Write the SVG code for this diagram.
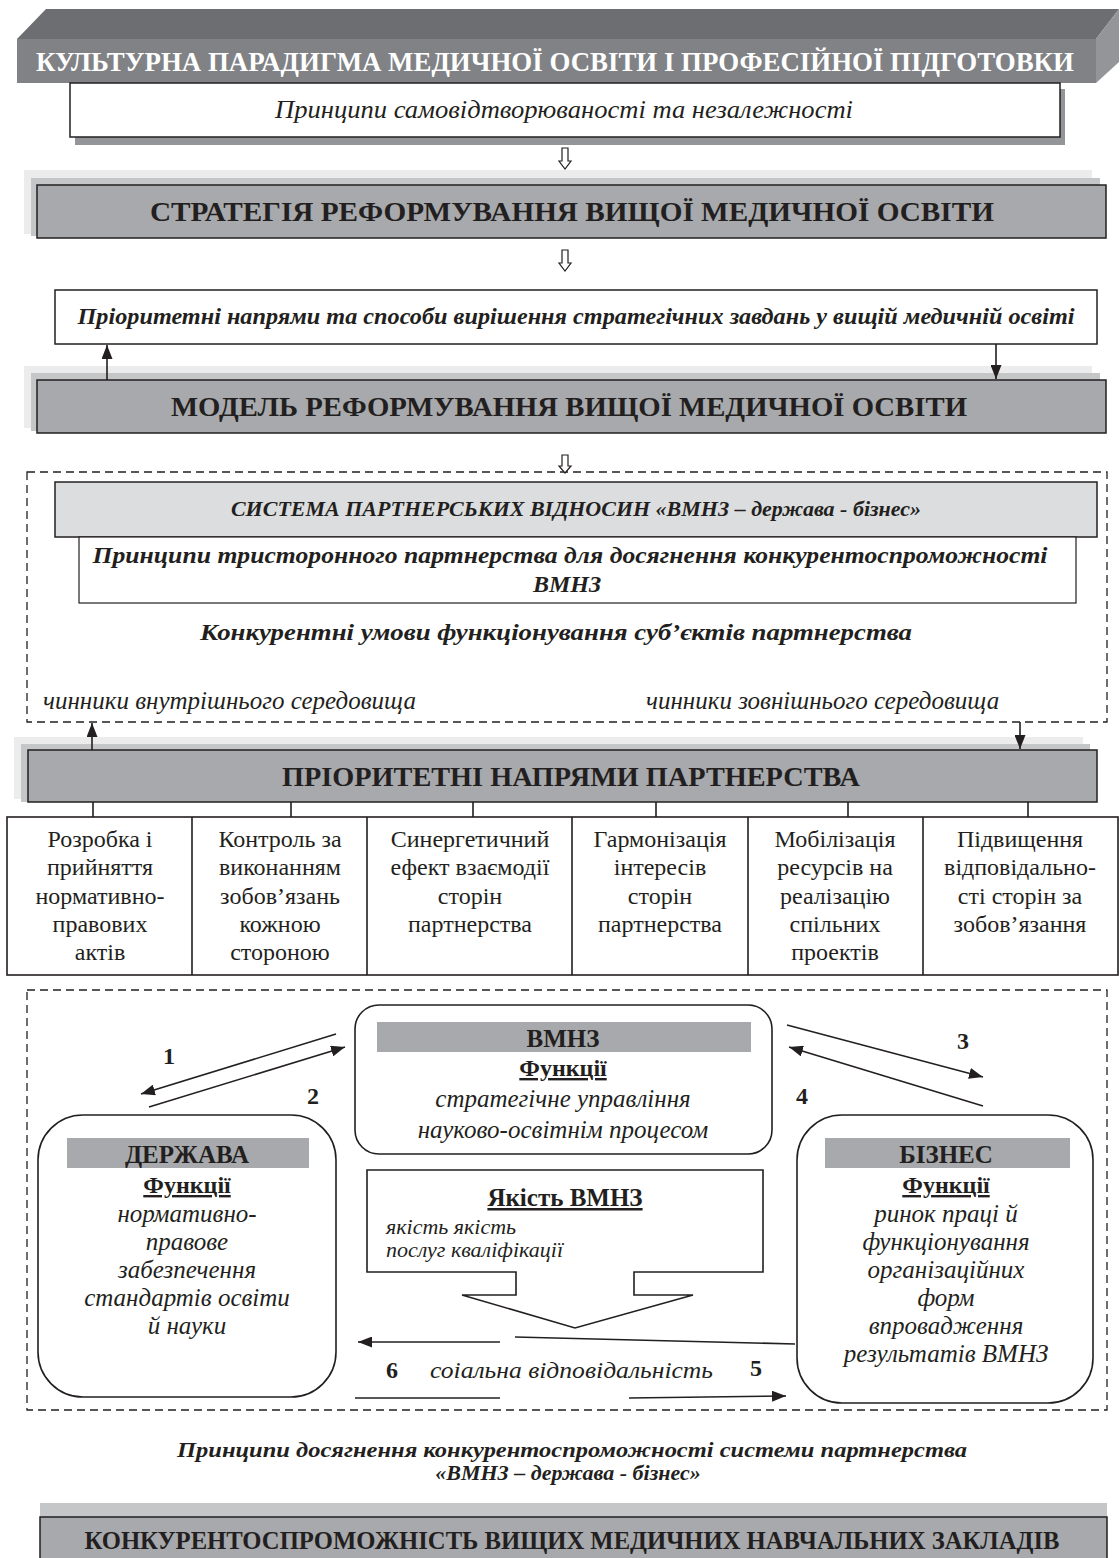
<svg xmlns="http://www.w3.org/2000/svg" width="1120" height="1558" viewBox="0 0 1120 1558">
<defs>
<marker id="ah" viewBox="0 0 14 11" refX="14" refY="5.5" markerWidth="14" markerHeight="11" markerUnits="userSpaceOnUse" orient="auto"><path d="M0,0 L14,5.5 L0,11 z" fill="#231f20"/></marker>
<style>
.t{font-family:"Liberation Serif","Times New Roman",serif;fill:#231f20}
.b{font-weight:bold}
.i{font-style:italic}
.c{text-anchor:middle}
.u{text-decoration:underline}
.w{fill:#fff}
.ln{stroke:#231f20;stroke-width:1.6;fill:none}
.box{fill:#fff;stroke:#231f20;stroke-width:1.5}
.ban{fill:#a7a9ac;stroke:#231f20;stroke-width:1.5}
.sh1{fill:#ececed}
.sh2{fill:#c5c6c8}
.dash{fill:none;stroke:#231f20;stroke-width:1.3;stroke-dasharray:8 5}
.hd{fill:#a7a9ac}
.hol{fill:#fff;stroke:#231f20;stroke-width:1.2}
.rb{fill:#fff;stroke:#231f20;stroke-width:1.6}
</style>
</defs>

<g id="culture">
<polygon points="17,39 46,9 1119,9 1096,39" fill="#6d6e71"/>
<polygon points="1096,39 1119,9 1119,62 1096,83" fill="#939598"/>
<rect x="17" y="39" width="1079" height="44" fill="#808285"/>
<text class="t b c w" x="555" y="71" font-size="27" textLength="1038" lengthAdjust="spacingAndGlyphs">КУЛЬТУРНА ПАРАДИГМА МЕДИЧНОЇ ОСВІТИ І ПРОФЕСІЙНОЇ ПІДГОТОВКИ</text>
</g>

<g id="selfrepro">
<rect x="75" y="89" width="990" height="56" fill="#939598"/>
<rect class="box" x="70" y="83" width="990" height="54"/>
<text class="t i c" x="564" y="118" font-size="26" textLength="578" lengthAdjust="spacingAndGlyphs">Принципи самовідтворюваності та незалежності</text>
</g>

<g id="strategy">
<rect class="sh1" x="24" y="170" width="1068" height="64"/>
<rect class="sh2" x="31" y="178" width="1069" height="58"/>
<rect class="ban" x="37" y="185" width="1069" height="53"/>
<text class="t b c" x="572" y="221" font-size="28" textLength="844" lengthAdjust="spacingAndGlyphs">СТРАТЕГІЯ РЕФОРМУВАННЯ ВИЩОЇ МЕДИЧНОЇ ОСВІТИ</text>
</g>

<g id="priorities">
<rect class="box" x="55" y="290" width="1042" height="54"/>
<text class="t b i c" x="576" y="324" font-size="23" textLength="997" lengthAdjust="spacingAndGlyphs">Пріоритетні напрями та способи вирішення стратегічних завдань у вищій медичній освіті</text>
</g>

<g id="model">
<rect class="sh1" x="24" y="366" width="1068" height="62"/>
<rect class="sh2" x="31" y="373" width="1069" height="58"/>
<rect class="ban" x="37" y="380" width="1069" height="53"/>
<text class="t b c" x="569" y="416" font-size="28" textLength="796" lengthAdjust="spacingAndGlyphs">МОДЕЛЬ РЕФОРМУВАННЯ ВИЩОЇ МЕДИЧНОЇ ОСВІТИ</text>
</g>

<g id="partnership-frame">
<rect class="dash" x="27" y="472" width="1080" height="250"/>
<rect x="55" y="482" width="1042" height="55" fill="#dcddde" stroke="#231f20" stroke-width="1.5"/>
<text class="t b i c" x="576" y="516" font-size="22">СИСТЕМА ПАРТНЕРСЬКИХ ВІДНОСИН «ВМНЗ – держава - бізнес»</text>
<rect x="79" y="537" width="997" height="66" fill="#fff" stroke="#231f20" stroke-width="1.2"/>
<text class="t b i c" x="570" y="563" font-size="24" textLength="955" lengthAdjust="spacingAndGlyphs">Принципи тристоронного партнерства для досягнення конкурентоспроможності</text>
<text class="t b i c" x="567" y="592" font-size="24">ВМНЗ</text>
<text class="t b i c" x="556" y="640" font-size="24" textLength="712" lengthAdjust="spacingAndGlyphs">Конкурентні умови функціонування суб’єктів партнерства</text>
<text class="t i" x="43" y="709" font-size="25">чинники внутрішнього середовища</text>
<text class="t i" x="646" y="709" font-size="25">чинники зовнішнього середовища</text>
</g>

<g id="partnership-directions">
<rect class="sh1" x="14" y="737" width="1069" height="62"/>
<rect class="sh2" x="21" y="744" width="1069" height="58"/>
<rect class="ban" x="28" y="750" width="1069" height="52"/>
<text class="t b c" x="571" y="786" font-size="28" textLength="578" lengthAdjust="spacingAndGlyphs">ПРІОРИТЕТНІ НАПРЯМИ ПАРТНЕРСТВА</text>
</g>

<g id="cells">
<rect x="7" y="817" width="1111" height="158" fill="#fff" stroke="#231f20" stroke-width="1.6"/>
<path class="ln" d="M192,817V975M367,817V975M572,817V975M748,817V975M923,817V975"/>
<g class="t c" font-size="24">
<text x="100" y="847">Розробка і</text><text x="100" y="875">прийняття</text><text x="100" y="904">нормативно-</text><text x="100" y="932">правових</text><text x="100" y="960">актів</text>
<text x="280" y="847">Контроль за</text><text x="280" y="875">виконанням</text><text x="280" y="904">зобов’язань</text><text x="280" y="932">кожною</text><text x="280" y="960">стороною</text>
<text x="470" y="847">Синергетичний</text><text x="470" y="875">ефект взаємодії</text><text x="470" y="904">сторін</text><text x="470" y="932">партнерства</text>
<text x="660" y="847">Гармонізація</text><text x="660" y="875">інтересів</text><text x="660" y="904">сторін</text><text x="660" y="932">партнерства</text>
<text x="835" y="847">Мобілізація</text><text x="835" y="875">ресурсів на</text><text x="835" y="904">реалізацію</text><text x="835" y="932">спільних</text><text x="835" y="960">проектів</text>
<text x="1020" y="847">Підвищення</text><text x="1020" y="875">відповідально-</text><text x="1020" y="904">сті сторін за</text><text x="1020" y="932">зобов’язання</text>
</g>
</g>

<g id="interaction-frame">
<rect class="dash" x="27" y="990" width="1080" height="420"/>
</g>

<g id="vmnz">
<rect class="rb" x="355" y="1005" width="417" height="149" rx="24"/>
<rect class="hd" x="377" y="1022" width="374" height="30"/>
<text class="t b c" x="563" y="1047" font-size="25">ВМНЗ</text>
<text class="t b c u" x="563" y="1076" font-size="24">Функції</text>
<text class="t i c" x="563" y="1107" font-size="25">стратегічне управління</text>
<text class="t i c" x="563" y="1138" font-size="25">науково-освітнім процесом</text>
</g>

<g id="derzhava">
<rect class="rb" x="38" y="1115" width="298" height="282" rx="45"/>
<rect class="hd" x="67" y="1138" width="242" height="30"/>
<text class="t b c" x="187" y="1163" font-size="25">ДЕРЖАВА</text>
<text class="t b c u" x="187" y="1193" font-size="24">Функції</text>
<g class="t i c" font-size="25">
<text x="187" y="1222">нормативно-</text><text x="187" y="1250">правове</text><text x="187" y="1278">забезпечення</text><text x="187" y="1306">стандартів освіти</text><text x="187" y="1334">й науки</text>
</g>
</g>

<g id="biznes">
<rect class="rb" x="797" y="1115" width="296" height="288" rx="45"/>
<rect class="hd" x="825" y="1138" width="245" height="30"/>
<text class="t b c" x="946" y="1163" font-size="25">БІЗНЕС</text>
<text class="t b c u" x="946" y="1193" font-size="24">Функції</text>
<g class="t i c" font-size="25">
<text x="946" y="1222">ринок праці й</text><text x="946" y="1250">функціонування</text><text x="946" y="1278">організаційних</text><text x="946" y="1306">форм</text><text x="946" y="1334">впровадження</text><text x="946" y="1362">результатів ВМНЗ</text>
</g>
</g>

<g id="quality">
<path class="rb" d="M367,1170H763V1272H634V1295H693L575,1328L462,1295H516V1272H367Z"/>
<text class="t b c u" x="565" y="1206" font-size="25">Якість ВМНЗ</text>
<text class="t i" x="386" y="1234" font-size="22">якість якість</text>
<text class="t i" x="386" y="1257" font-size="22">послуг кваліфікації</text>
</g>

<g id="connectors">
<path class="hol" d="M562,148V161H559L565,169L571,161H568V148Z"/>
<path class="hol" d="M562,250V263H559L565,271L571,263H568V250Z"/>
<path class="hol" d="M562,455V466H559L565,473L571,466H568V455Z"/>
<line class="ln" x1="107" y1="380" x2="107" y2="345" marker-end="url(#ah)"/>
<line class="ln" x1="996" y1="344" x2="996" y2="379" marker-end="url(#ah)"/>
<line class="ln" x1="92" y1="750" x2="92" y2="723" marker-end="url(#ah)"/>
<line class="ln" x1="1020" y1="722" x2="1020" y2="749" marker-end="url(#ah)"/>
<path class="ln" d="M93,802V817M291,802V817M473,802V817M656,802V817M848,802V817M1028,802V817"/>
<line class="ln" x1="336" y1="1034" x2="141" y2="1094" marker-end="url(#ah)"/>
<line class="ln" x1="149" y1="1107" x2="345" y2="1047" marker-end="url(#ah)"/>
<line class="ln" x1="787" y1="1025" x2="983" y2="1077" marker-end="url(#ah)"/>
<line class="ln" x1="983" y1="1106" x2="789" y2="1047" marker-end="url(#ah)"/>
<line class="ln" x1="500" y1="1342" x2="358" y2="1342" marker-end="url(#ah)"/>
<line class="ln" x1="515" y1="1337" x2="795" y2="1344"/>
<line class="ln" x1="355" y1="1398" x2="500" y2="1398"/>
<line class="ln" x1="629" y1="1398" x2="786" y2="1396" marker-end="url(#ah)"/>
</g>

<g id="labels" class="t b" font-size="24">
<text x="163" y="1064">1</text>
<text x="307" y="1104">2</text>
<text x="957" y="1049">3</text>
<text x="796" y="1104">4</text>
<text x="386" y="1378">6</text>
<text x="750" y="1376">5</text>
</g>
<text class="t i" x="430" y="1378" font-size="23" textLength="283" lengthAdjust="spacingAndGlyphs">соіальна відповідальність</text>

<g id="principles">
<text class="t b i c" x="572" y="1457" font-size="22" textLength="790" lengthAdjust="spacingAndGlyphs">Принципи досягнення конкурентоспроможності системи партнерства</text>
<text class="t b i c" x="568" y="1480" font-size="22">«ВМНЗ – держава - бізнес»</text>
</g>

<g id="competitiveness">
<rect class="sh2" x="40" y="1503" width="1067" height="20"/>
<rect class="ban" x="40" y="1517" width="1067" height="46"/>
<text class="t b c" x="572" y="1549" font-size="25" textLength="975" lengthAdjust="spacingAndGlyphs">КОНКУРЕНТОСПРОМОЖНІСТЬ ВИЩИХ МЕДИЧНИХ НАВЧАЛЬНИХ ЗАКЛАДІВ</text>
</g>
</svg>
